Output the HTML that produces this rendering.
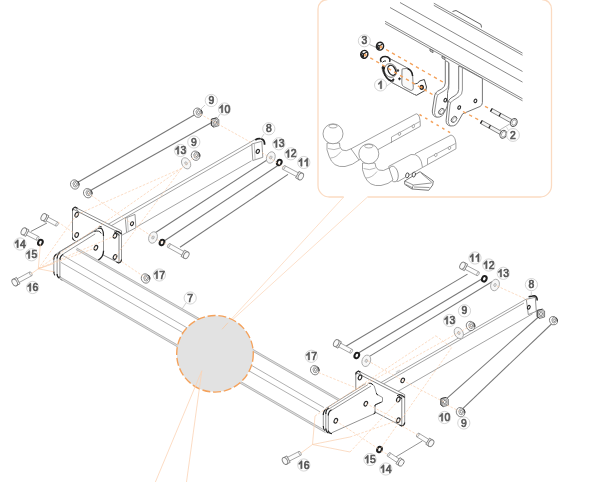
<!DOCTYPE html>
<html><head><meta charset="utf-8"><title>Towbar exploded view</title>
<style>
html,body{margin:0;padding:0;background:#fff;}
body{width:600px;height:482px;overflow:hidden;font-family:"Liberation Sans",sans-serif;}
svg{display:block;font-family:"Liberation Sans",sans-serif;filter:blur(0.3px);}
</style></head><body>
<svg width="600" height="482" viewBox="0 0 600 482">
<defs><filter id="nf" x="-20%" y="-20%" width="140%" height="140%"><feOffset dx="0" dy="0"/></filter></defs>
<rect width="600" height="482" fill="#fff"/>
<path d="M343.7,197 H329.5 A11.5,11.5 0 0 1 318,185.5 V9 A9.5,9.5 0 0 1 327.5,-0.5 M542,-0.5 A9.5,9.5 0 0 1 551.5,9 V185.5 A11.5,11.5 0 0 1 540,197 H367.5" stroke="#fbdbc2" stroke-width="1.3" fill="none" />
<line x1="343.70" y1="197.00" x2="222.00" y2="329.30" stroke="#fbd8be" stroke-width="0.8" />
<line x1="367.50" y1="197.00" x2="222.00" y2="329.30" stroke="#fbd8be" stroke-width="0.8" />
<line x1="255.30" y1="139.30" x2="105.50" y2="225.73" stroke="#858585" stroke-width="0.75" />
<line x1="252.00" y1="144.50" x2="108.40" y2="227.36" stroke="#858585" stroke-width="0.75" />
<line x1="251.50" y1="160.80" x2="136.70" y2="226.90" stroke="#858585" stroke-width="0.75" />
<line x1="126.60" y1="232.60" x2="121.70" y2="235.30" stroke="#858585" stroke-width="0.75" />
<path d="M251.80,144.00 L261.80,141.30 L262.80,157.30 L252.80,160.50 Z" stroke="#808080" stroke-width="0.8" fill="#fff" />
<line x1="254.30" y1="143.60" x2="255.10" y2="159.80" stroke="#aaa" stroke-width="0.7" />
<ellipse cx="257.80" cy="151.40" rx="1.5" ry="2.1" transform="rotate(25 257.80 151.40)" stroke="#2c2c2c" stroke-width="1.15" fill="#fff"/>
<path d="M255.3,140 Q258.5,137.8 262.3,139.3 Q264.9,140.8 264.6,144.8" stroke="#222" stroke-width="1.7" fill="none" />
<path d="M125.30,218.20 L135.00,214.40 L135.90,227.80 L126.60,232.60 Z" stroke="#808080" stroke-width="0.8" fill="#fff" />
<line x1="127.30" y1="217.60" x2="128.30" y2="231.60" stroke="#aaa" stroke-width="0.7" />
<ellipse cx="132.00" cy="223.70" rx="1.4" ry="2.0" transform="rotate(25 132.00 223.70)" stroke="#2c2c2c" stroke-width="1.15" fill="#fff"/>
<path d="M75.00,207.20 L121.50,230.80 L121.50,261.40 L119.00,263.00 Z" stroke="#777" stroke-width="0.8" fill="#fff" />
<path d="M72.50,208.80 L119.00,232.50 L119.00,263.00 L72.50,239.50 Z" stroke="#777" stroke-width="0.9" fill="#fff" stroke-linejoin="round"/>
<path d="M72.5,210.8 Q72.5,208 75.2,207 L77.5,208.2" stroke="#262626" stroke-width="1.1" fill="none" />
<path d="M115.5,230.8 Q119,231 121.5,234" stroke="#262626" stroke-width="1.2" fill="none" />
<path d="M114,231.8 Q117.5,232.5 119,235.5" stroke="#262626" stroke-width="1.0" fill="none" />
<path d="M121.5,259.5 Q121.3,262.6 118.5,263 L116.5,262" stroke="#262626" stroke-width="1.1" fill="none" />
<path d="M72.5,237.5 Q72.6,239.3 74.5,240.4" stroke="#262626" stroke-width="1.0" fill="none" />
<ellipse cx="76.70" cy="214.70" rx="1.6" ry="2.4" transform="rotate(25 76.70 214.70)" stroke="#2c2c2c" stroke-width="1.15" fill="#fff"/>
<ellipse cx="76.70" cy="235.00" rx="1.6" ry="2.4" transform="rotate(25 76.70 235.00)" stroke="#2c2c2c" stroke-width="1.15" fill="#fff"/>
<ellipse cx="115.00" cy="235.80" rx="1.6" ry="2.4" transform="rotate(25 115.00 235.80)" stroke="#2c2c2c" stroke-width="1.15" fill="#fff"/>
<ellipse cx="115.00" cy="257.00" rx="1.6" ry="2.4" transform="rotate(25 115.00 257.00)" stroke="#2c2c2c" stroke-width="1.15" fill="#fff"/>
<path d="M53.8,274 V258 Q53.8,254.5 57,252.8 L97,228 Q103.5,225.5 103.5,236 V251 Q103.5,257 98,260.2 L76,248.3 L62.5,254 L60,279.5 L56,277 Z" stroke="none" stroke-width="0" fill="#fff" />
<line x1="58.60" y1="252.30" x2="98.10" y2="228.40" stroke="#777" stroke-width="0.8" />
<line x1="56.40" y1="253.90" x2="97.00" y2="229.60" stroke="#777" stroke-width="0.7" />
<line x1="63.20" y1="254.00" x2="95.20" y2="233.90" stroke="#777" stroke-width="0.8" />
<line x1="103.50" y1="235.90" x2="103.50" y2="251.10" stroke="#777" stroke-width="0.8" />
<line x1="53.80" y1="258.00" x2="53.80" y2="273.00" stroke="#777" stroke-width="0.8" />
<line x1="57.10" y1="257.00" x2="57.10" y2="275.50" stroke="#777" stroke-width="0.8" />
<line x1="59.90" y1="258.00" x2="59.90" y2="277.50" stroke="#777" stroke-width="0.8" />
<path d="M53.8,259.5 Q53.8,255.8 56.6,254" stroke="#262626" stroke-width="1.2" fill="none" />
<path d="M57.1,258.5 Q57.1,254.5 60.2,252.6" stroke="#262626" stroke-width="1.2" fill="none" />
<path d="M59.9,260 Q59.9,256 63.2,254.2" stroke="#262626" stroke-width="1.2" fill="none" />
<path d="M53.8,271.5 Q53.8,274.3 55,275.3" stroke="#262626" stroke-width="1.1" fill="none" />
<path d="M57.1,274 Q57.2,277.3 59.4,278.2" stroke="#262626" stroke-width="1.2" fill="none" />
<path d="M59.9,276.5 Q60.1,279.6 62.8,280" stroke="#262626" stroke-width="1.2" fill="none" />
<path d="M98.1,228.4 Q103.5,226.3 103.5,236" stroke="#262626" stroke-width="1.2" fill="none" />
<path d="M94.3,231.6 Q99.5,229.8 101.3,233.5" stroke="#262626" stroke-width="0.9" fill="none" />
<path d="M103.5,250.8 Q103.7,257 98,260.2" stroke="#262626" stroke-width="1.3" fill="none" />
<path d="M99.3,226.3 L101.8,226.9" stroke="#262626" stroke-width="0.9" fill="none" />
<ellipse cx="95.90" cy="247.80" rx="1.6" ry="2.4" transform="rotate(25 95.90 247.80)" stroke="#2c2c2c" stroke-width="1.15" fill="#fff"/>
<line x1="76.30" y1="248.70" x2="340.00" y2="400.50" stroke="#e2e2e2" stroke-width="1.7" />
<line x1="75.88" y1="249.44" x2="339.58" y2="401.24" stroke="#9c9c9c" stroke-width="0.7" />
<line x1="76.72" y1="247.96" x2="340.42" y2="399.76" stroke="#9c9c9c" stroke-width="0.7" />
<line x1="62.70" y1="255.40" x2="324.00" y2="407.60" stroke="#9c9c9c" stroke-width="0.8" />
<line x1="61.00" y1="262.40" x2="320.00" y2="411.80" stroke="#9c9c9c" stroke-width="0.8" />
<line x1="60.00" y1="277.80" x2="326.00" y2="432.00" stroke="#e2e2e2" stroke-width="1.7" />
<line x1="59.57" y1="278.54" x2="325.57" y2="432.74" stroke="#9c9c9c" stroke-width="0.7" />
<line x1="60.43" y1="277.06" x2="326.43" y2="431.26" stroke="#9c9c9c" stroke-width="0.7" />
<line x1="77.50" y1="182.50" x2="196.30" y2="113.80" stroke="#787878" stroke-width="1.05" />
<line x1="91.30" y1="190.00" x2="213.00" y2="121.80" stroke="#787878" stroke-width="1.05" />
<ellipse cx="74.73" cy="184.48" rx="4.14" ry="4.77" transform="rotate(-25 74.73 184.48)" stroke="#707070" stroke-width="0.8" fill="#fff"/>
<path d="M78.02,184.59 L76.34,187.07 L73.77,186.51 L72.88,183.47 L74.56,180.99 L77.13,181.55 Z" stroke="#707070" stroke-width="0.7" fill="#fff" />
<ellipse cx="75.54" cy="184.03" rx="1.1700000000000002" ry="1.53" transform="rotate(-25 75.54 184.03)" stroke="#707070" stroke-width="0.7" fill="#fff"/>
<path d="M77.61,180.97 L79.05,183.40 L79.05,185.38" stroke="#3a3a3a" stroke-width="1.0" fill="none" />
<ellipse cx="87.73" cy="193.18" rx="4.14" ry="4.77" transform="rotate(-25 87.73 193.18)" stroke="#707070" stroke-width="0.8" fill="#fff"/>
<path d="M91.02,193.29 L89.34,195.77 L86.77,195.21 L85.88,192.17 L87.56,189.69 L90.13,190.25 Z" stroke="#707070" stroke-width="0.7" fill="#fff" />
<ellipse cx="88.54" cy="192.73" rx="1.1700000000000002" ry="1.53" transform="rotate(-25 88.54 192.73)" stroke="#707070" stroke-width="0.7" fill="#fff"/>
<path d="M90.61,189.67 L92.05,192.10 L92.05,194.08" stroke="#3a3a3a" stroke-width="1.0" fill="none" />
<ellipse cx="197.73" cy="112.68" rx="4.14" ry="4.77" transform="rotate(-25 197.73 112.68)" stroke="#707070" stroke-width="0.8" fill="#fff"/>
<path d="M201.02,112.79 L199.34,115.27 L196.77,114.71 L195.88,111.67 L197.56,109.19 L200.13,109.75 Z" stroke="#707070" stroke-width="0.7" fill="#fff" />
<ellipse cx="198.54" cy="112.23" rx="1.1700000000000002" ry="1.53" transform="rotate(-25 198.54 112.23)" stroke="#707070" stroke-width="0.7" fill="#fff"/>
<path d="M200.61,109.17 L202.05,111.60 L202.05,113.58" stroke="#3a3a3a" stroke-width="1.0" fill="none" />
<path d="M211.40,119.10 L216.60,117.90 L218.80,119.70 L218.80,125.70 L213.80,127.10 L211.40,125.50 Z" stroke="#5a5a5a" stroke-width="0.8" fill="#f6f6f6" />
<path d="M212.70,120.30 L217.30,119.30 L217.50,124.90 L213.30,125.70 Z" stroke="#777" stroke-width="0.7" fill="#fff" />
<ellipse cx="215.20" cy="122.60" rx="1.3" ry="1.8" transform="rotate(20 215.20 122.60)" stroke="#666" stroke-width="0.8" fill="#fff"/>
<path d="M211.40,119.30 L211.40,125.30 L213.80,127.00" stroke="#3a3a3a" stroke-width="0.9" fill="none" />
<path d="M211.60,119.10 L216.60,117.90" stroke="#3a3a3a" stroke-width="0.9" fill="none" />
<ellipse cx="195.53" cy="155.68" rx="4.14" ry="4.77" transform="rotate(-25 195.53 155.68)" stroke="#707070" stroke-width="0.8" fill="#fff"/>
<path d="M198.82,155.79 L197.14,158.27 L194.57,157.71 L193.68,154.67 L195.36,152.19 L197.93,152.75 Z" stroke="#707070" stroke-width="0.7" fill="#fff" />
<ellipse cx="196.34" cy="155.23" rx="1.1700000000000002" ry="1.53" transform="rotate(-25 196.34 155.23)" stroke="#707070" stroke-width="0.7" fill="#fff"/>
<path d="M198.41,152.17 L199.85,154.60 L199.85,156.58" stroke="#3a3a3a" stroke-width="1.0" fill="none" />
<ellipse cx="186.10" cy="163.30" rx="4.2" ry="5.9" transform="rotate(-28 186.10 163.30)" stroke="#a0a0a0" stroke-width="0.8" fill="#f7f7f7"/>
<ellipse cx="186.10" cy="163.30" rx="1.1" ry="1.6" transform="rotate(-28 186.10 163.30)" stroke="#a0a0a0" stroke-width="0.7" fill="#e4e4e4"/>
<line x1="153.70" y1="233.70" x2="268.50" y2="159.00" stroke="#787878" stroke-width="1.05" />
<line x1="163.80" y1="241.30" x2="277.50" y2="165.80" stroke="#787878" stroke-width="1.05" />
<line x1="180.00" y1="247.20" x2="288.00" y2="174.40" stroke="#787878" stroke-width="1.05" />
<ellipse cx="153.00" cy="237.50" rx="4.2" ry="5.9" transform="rotate(20 153.00 237.50)" stroke="#a0a0a0" stroke-width="0.8" fill="#f7f7f7"/>
<ellipse cx="153.00" cy="237.50" rx="1.1" ry="1.6" transform="rotate(20 153.00 237.50)" stroke="#a0a0a0" stroke-width="0.7" fill="#e4e4e4"/>
<ellipse cx="162.00" cy="242.50" rx="2.2" ry="2.8" transform="rotate(25 162.00 242.50)" stroke="#1e1e1e" stroke-width="2.0" fill="#fff"/>
<path d="M186.02,252.66 L169.82,243.66 L167.78,247.34 L183.98,256.34 Z" stroke="#8e8e8e" stroke-width="0.8" fill="#fdfdfd" />
<ellipse cx="168.80" cy="245.50" rx="1.0" ry="2.1" transform="rotate(-150.94539590092285 168.80 245.50)" stroke="#8e8e8e" stroke-width="0.7" fill="#fdfdfd"/>
<path d="M188.06,252.08 L184.56,250.14 L181.07,256.43 L184.56,258.38 Z" stroke="#7c7c7c" stroke-width="0.9" fill="#f4f4f4" />
<ellipse cx="186.31" cy="255.23" rx="2.4" ry="3.7" transform="rotate(-150.94539590092285 186.31 255.23)" stroke="#7c7c7c" stroke-width="0.9" fill="#fafafa"/>
<ellipse cx="270.80" cy="157.50" rx="4.2" ry="5.9" transform="rotate(20 270.80 157.50)" stroke="#a0a0a0" stroke-width="0.8" fill="#f7f7f7"/>
<ellipse cx="270.80" cy="157.50" rx="1.1" ry="1.6" transform="rotate(20 270.80 157.50)" stroke="#a0a0a0" stroke-width="0.7" fill="#e4e4e4"/>
<ellipse cx="279.30" cy="162.50" rx="2.2" ry="2.8" transform="rotate(25 279.30 162.50)" stroke="#1e1e1e" stroke-width="2.0" fill="#fff"/>
<path d="M300.48,173.94 L284.78,165.64 L282.82,169.36 L298.52,177.66 Z" stroke="#8e8e8e" stroke-width="0.8" fill="#fdfdfd" />
<ellipse cx="283.80" cy="167.50" rx="1.0" ry="2.1" transform="rotate(-152.13627450357595 283.80 167.50)" stroke="#8e8e8e" stroke-width="0.7" fill="#fdfdfd"/>
<path d="M302.51,173.32 L298.97,171.45 L295.61,177.81 L299.14,179.68 Z" stroke="#7c7c7c" stroke-width="0.9" fill="#f4f4f4" />
<ellipse cx="300.83" cy="176.50" rx="2.4" ry="3.7" transform="rotate(-152.13627450357595 300.83 176.50)" stroke="#7c7c7c" stroke-width="0.9" fill="#fafafa"/>
<line x1="30.80" y1="231.50" x2="47.00" y2="223.00" stroke="#666" stroke-width="0.8" />
<path d="M44.01,219.65 L56.01,226.05 L57.99,222.35 L45.99,215.95 Z" stroke="#8e8e8e" stroke-width="0.8" fill="#fdfdfd" />
<ellipse cx="57.00" cy="224.20" rx="1.0" ry="2.1" transform="rotate(28.072486935852876 57.00 224.20)" stroke="#8e8e8e" stroke-width="0.7" fill="#fdfdfd"/>
<path d="M41.98,220.27 L45.51,222.15 L48.90,215.80 L45.37,213.92 Z" stroke="#7c7c7c" stroke-width="0.9" fill="#f4f4f4" />
<ellipse cx="43.68" cy="217.09" rx="2.4" ry="3.7" transform="rotate(28.072486935852876 43.68 217.09)" stroke="#7c7c7c" stroke-width="0.9" fill="#fafafa"/>
<path d="M24.15,233.87 L36.75,240.27 L38.65,236.53 L26.05,230.13 Z" stroke="#8e8e8e" stroke-width="0.8" fill="#fdfdfd" />
<ellipse cx="37.70" cy="238.40" rx="1.0" ry="2.1" transform="rotate(26.92767785104052 37.70 238.40)" stroke="#8e8e8e" stroke-width="0.7" fill="#fdfdfd"/>
<path d="M22.13,234.53 L25.70,236.34 L28.96,229.92 L25.39,228.11 Z" stroke="#7c7c7c" stroke-width="0.9" fill="#f4f4f4" />
<ellipse cx="23.76" cy="231.32" rx="2.4" ry="3.7" transform="rotate(26.92767785104052 23.76 231.32)" stroke="#7c7c7c" stroke-width="0.9" fill="#fafafa"/>
<ellipse cx="40.40" cy="242.50" rx="2.2" ry="2.8" transform="rotate(25 40.40 242.50)" stroke="#1e1e1e" stroke-width="2.0" fill="#fff"/>
<path d="M17.00,283.65 L31.80,275.65 L29.80,271.95 L15.00,279.95 Z" stroke="#8e8e8e" stroke-width="0.8" fill="#fdfdfd" />
<ellipse cx="30.80" cy="273.80" rx="1.0" ry="2.1" transform="rotate(-28.393019421382995 30.80 273.80)" stroke="#8e8e8e" stroke-width="0.7" fill="#fdfdfd"/>
<path d="M16.39,285.68 L19.91,283.78 L16.49,277.44 L12.97,279.35 Z" stroke="#7c7c7c" stroke-width="0.9" fill="#f4f4f4" />
<ellipse cx="14.68" cy="282.51" rx="2.4" ry="3.7" transform="rotate(-28.393019421382995 14.68 282.51)" stroke="#7c7c7c" stroke-width="0.9" fill="#fafafa"/>
<ellipse cx="145.53" cy="278.48" rx="4.14" ry="4.77" transform="rotate(-25 145.53 278.48)" stroke="#707070" stroke-width="0.8" fill="#fff"/>
<path d="M148.82,278.59 L147.14,281.07 L144.57,280.51 L143.68,277.47 L145.36,274.99 L147.93,275.55 Z" stroke="#707070" stroke-width="0.7" fill="#fff" />
<ellipse cx="146.34" cy="278.03" rx="1.1700000000000002" ry="1.53" transform="rotate(-25 146.34 278.03)" stroke="#707070" stroke-width="0.7" fill="#fff"/>
<path d="M148.41,274.97 L149.85,277.40 L149.85,279.38" stroke="#3a3a3a" stroke-width="1.0" fill="none" />
<line x1="196.30" y1="155.30" x2="181.70" y2="168.30" stroke="#f9cfae" stroke-width="0.7" stroke-dasharray="2.5 1.5"/>
<line x1="181.70" y1="168.30" x2="38.30" y2="268.80" stroke="#f9cfae" stroke-width="0.7" stroke-dasharray="2.5 1.5"/>
<line x1="181.70" y1="168.30" x2="76.70" y2="214.70" stroke="#f9cfae" stroke-width="0.7" stroke-dasharray="2.5 1.5"/>
<line x1="181.70" y1="168.30" x2="115.00" y2="257.00" stroke="#f9cfae" stroke-width="0.7" stroke-dasharray="2.5 1.5"/>
<line x1="76.70" y1="214.70" x2="38.30" y2="268.80" stroke="#f9cfae" stroke-width="0.7" stroke-dasharray="2.5 1.5"/>
<line x1="115.00" y1="235.80" x2="38.30" y2="268.80" stroke="#f9cfae" stroke-width="0.7" stroke-dasharray="2.5 1.5"/>
<line x1="95.90" y1="247.80" x2="38.30" y2="268.80" stroke="#f9cfae" stroke-width="0.7" stroke-dasharray="2.5 1.5"/>
<line x1="88.00" y1="193.00" x2="132.00" y2="223.70" stroke="#f9cfae" stroke-width="0.7" stroke-dasharray="2.5 1.5"/>
<line x1="136.00" y1="226.00" x2="153.00" y2="237.00" stroke="#f9cfae" stroke-width="0.7" stroke-dasharray="2.5 1.5"/>
<line x1="157.00" y1="239.50" x2="168.00" y2="245.00" stroke="#f9cfae" stroke-width="0.7" stroke-dasharray="2.5 1.5"/>
<line x1="115.00" y1="257.00" x2="145.80" y2="278.00" stroke="#f9cfae" stroke-width="0.7" stroke-dasharray="2.5 1.5"/>
<line x1="58.00" y1="222.00" x2="76.70" y2="235.00" stroke="#f9cfae" stroke-width="0.7" stroke-dasharray="2.5 1.5"/>
<line x1="38.30" y1="268.80" x2="40.40" y2="244.00" stroke="#f9cfae" stroke-width="0.7" />
<line x1="38.30" y1="268.80" x2="53.80" y2="263.50" stroke="#f9cfae" stroke-width="0.7" />
<line x1="38.30" y1="268.80" x2="53.80" y2="271.80" stroke="#f9cfae" stroke-width="0.7" />
<line x1="38.30" y1="268.80" x2="31.00" y2="274.00" stroke="#f9cfae" stroke-width="0.7" />
<line x1="200.00" y1="114.00" x2="252.00" y2="143.00" stroke="#f9cfae" stroke-width="0.7" stroke-dasharray="2.5 1.5"/>
<line x1="262.00" y1="152.50" x2="283.00" y2="167.00" stroke="#f9cfae" stroke-width="0.7" stroke-dasharray="2.5 1.5"/>
<line x1="205.00" y1="105.00" x2="200.00" y2="110.00" stroke="#bbb" stroke-width="0.7" />
<circle cx="211.30" cy="100.50" r="6.1" fill="#fff" stroke="#c9c9c9" stroke-width="0.8"/>
<text transform="translate(211.30 104.15) scale(0.95 1)" text-anchor="middle" font-size="10.9" fill="#585858" stroke="#585858" stroke-width="0.7" filter="url(#nf)">9</text>
<line x1="220.50" y1="113.50" x2="217.50" y2="118.00" stroke="#bbb" stroke-width="0.7" />
<circle cx="224.50" cy="109.00" r="6.1" fill="#fff" stroke="#c9c9c9" stroke-width="0.8"/>
<path d="M222.77,104.85 L222.77,112.65 L221.45,112.65 L221.45,107.19 Q220.64,107.97 219.55,108.44 L219.55,107.19 Q221.16,106.41 221.85,104.85 Z" fill="#585858" stroke="#585858" stroke-width="0.55" filter="url(#nf)"/>
<text transform="translate(227.38 112.65) scale(0.95 1)" text-anchor="middle" font-size="10.9" fill="#585858" stroke="#585858" stroke-width="0.7" filter="url(#nf)">0</text>
<line x1="264.00" y1="134.00" x2="260.00" y2="140.00" stroke="#bbb" stroke-width="0.7" />
<circle cx="268.80" cy="128.80" r="6.1" fill="#fff" stroke="#c9c9c9" stroke-width="0.8"/>
<text transform="translate(268.80 132.45) scale(0.95 1)" text-anchor="middle" font-size="10.9" fill="#585858" stroke="#585858" stroke-width="0.7" filter="url(#nf)">8</text>
<circle cx="278.80" cy="143.80" r="6.1" fill="#fff" stroke="#c9c9c9" stroke-width="0.8"/>
<path d="M277.07,139.65 L277.07,147.45 L275.75,147.45 L275.75,141.99 Q274.94,142.77 273.85,143.24 L273.85,141.99 Q275.46,141.21 276.15,139.65 Z" fill="#585858" stroke="#585858" stroke-width="0.55" filter="url(#nf)"/>
<text transform="translate(281.68 147.45) scale(0.95 1)" text-anchor="middle" font-size="10.9" fill="#585858" stroke="#585858" stroke-width="0.7" filter="url(#nf)">3</text>
<circle cx="290.80" cy="153.80" r="6.1" fill="#fff" stroke="#c9c9c9" stroke-width="0.8"/>
<path d="M289.07,149.65 L289.07,157.45 L287.75,157.45 L287.75,151.99 Q286.94,152.77 285.85,153.24 L285.85,151.99 Q287.46,151.21 288.15,149.65 Z" fill="#585858" stroke="#585858" stroke-width="0.55" filter="url(#nf)"/>
<text transform="translate(293.68 157.45) scale(0.95 1)" text-anchor="middle" font-size="10.9" fill="#585858" stroke="#585858" stroke-width="0.7" filter="url(#nf)">2</text>
<circle cx="303.80" cy="162.50" r="6.1" fill="#fff" stroke="#c9c9c9" stroke-width="0.8"/>
<path d="M302.07,158.35 L302.07,166.15 L300.75,166.15 L300.75,160.69 Q299.94,161.47 298.85,161.94 L298.85,160.69 Q300.46,159.91 301.15,158.35 Z" fill="#585858" stroke="#585858" stroke-width="0.55" filter="url(#nf)"/>
<path d="M307.83,158.35 L307.83,166.15 L306.51,166.15 L306.51,160.69 Q305.70,161.47 304.61,161.94 L304.61,160.69 Q306.22,159.91 306.91,158.35 Z" fill="#585858" stroke="#585858" stroke-width="0.55" filter="url(#nf)"/>
<circle cx="193.80" cy="142.00" r="6.1" fill="#fff" stroke="#c9c9c9" stroke-width="0.8"/>
<text transform="translate(193.80 145.65) scale(0.95 1)" text-anchor="middle" font-size="10.9" fill="#585858" stroke="#585858" stroke-width="0.7" filter="url(#nf)">9</text>
<circle cx="180.50" cy="150.50" r="6.1" fill="#fff" stroke="#c9c9c9" stroke-width="0.8"/>
<path d="M178.77,146.35 L178.77,154.15 L177.45,154.15 L177.45,148.69 Q176.64,149.47 175.55,149.94 L175.55,148.69 Q177.16,147.91 177.85,146.35 Z" fill="#585858" stroke="#585858" stroke-width="0.55" filter="url(#nf)"/>
<text transform="translate(183.38 154.15) scale(0.95 1)" text-anchor="middle" font-size="10.9" fill="#585858" stroke="#585858" stroke-width="0.7" filter="url(#nf)">3</text>
<circle cx="20.00" cy="244.00" r="6.1" fill="#fff" stroke="#c9c9c9" stroke-width="0.8"/>
<path d="M18.27,239.85 L18.27,247.65 L16.95,247.65 L16.95,242.19 Q16.14,242.97 15.05,243.44 L15.05,242.19 Q16.66,241.41 17.35,239.85 Z" fill="#585858" stroke="#585858" stroke-width="0.55" filter="url(#nf)"/>
<text transform="translate(22.88 247.65) scale(0.95 1)" text-anchor="middle" font-size="10.9" fill="#585858" stroke="#585858" stroke-width="0.7" filter="url(#nf)">4</text>
<circle cx="31.50" cy="254.80" r="6.1" fill="#fff" stroke="#c9c9c9" stroke-width="0.8"/>
<path d="M29.77,250.65 L29.77,258.45 L28.45,258.45 L28.45,252.99 Q27.64,253.77 26.55,254.24 L26.55,252.99 Q28.16,252.21 28.85,250.65 Z" fill="#585858" stroke="#585858" stroke-width="0.55" filter="url(#nf)"/>
<text transform="translate(34.38 258.45) scale(0.95 1)" text-anchor="middle" font-size="10.9" fill="#585858" stroke="#585858" stroke-width="0.7" filter="url(#nf)">5</text>
<circle cx="32.60" cy="287.50" r="6.1" fill="#fff" stroke="#c9c9c9" stroke-width="0.8"/>
<path d="M30.87,283.35 L30.87,291.15 L29.55,291.15 L29.55,285.69 Q28.74,286.47 27.65,286.94 L27.65,285.69 Q29.26,284.91 29.95,283.35 Z" fill="#585858" stroke="#585858" stroke-width="0.55" filter="url(#nf)"/>
<text transform="translate(35.48 291.15) scale(0.95 1)" text-anchor="middle" font-size="10.9" fill="#585858" stroke="#585858" stroke-width="0.7" filter="url(#nf)">6</text>
<circle cx="159.30" cy="275.00" r="6.1" fill="#fff" stroke="#c9c9c9" stroke-width="0.8"/>
<path d="M157.57,270.85 L157.57,278.65 L156.25,278.65 L156.25,273.19 Q155.44,273.97 154.35,274.44 L154.35,273.19 Q155.96,272.41 156.65,270.85 Z" fill="#585858" stroke="#585858" stroke-width="0.55" filter="url(#nf)"/>
<text transform="translate(162.18 278.65) scale(0.95 1)" text-anchor="middle" font-size="10.9" fill="#585858" stroke="#585858" stroke-width="0.7" filter="url(#nf)">7</text>
<line x1="186.00" y1="303.00" x2="182.00" y2="309.00" stroke="#bbb" stroke-width="0.7" />
<circle cx="190.20" cy="298.00" r="6.1" fill="#fff" stroke="#c9c9c9" stroke-width="0.8"/>
<text transform="translate(190.20 301.65) scale(0.95 1)" text-anchor="middle" font-size="10.9" fill="#585858" stroke="#585858" stroke-width="0.7" filter="url(#nf)">7</text>
<line x1="526.30" y1="299.00" x2="380.70" y2="382.70" stroke="#858585" stroke-width="0.75" />
<line x1="524.00" y1="303.00" x2="383.30" y2="384.00" stroke="#858585" stroke-width="0.75" />
<line x1="532.50" y1="313.80" x2="396.70" y2="392.00" stroke="#858585" stroke-width="0.75" />
<path d="M526.30,299.30 L535.30,297.30 L536.30,311.30 L528.30,314.60 Z" stroke="#777" stroke-width="0.8" fill="#fff" />
<ellipse cx="528.80" cy="307.30" rx="1.3" ry="1.9" transform="rotate(25 528.80 307.30)" stroke="#2c2c2c" stroke-width="1.15" fill="#fff"/>
<path d="M528.6,296.8 L534.2,295.8 Q537.2,296.2 537.2,300.6" stroke="#222" stroke-width="1.6" fill="none" />
<ellipse cx="402.70" cy="380.40" rx="1.6" ry="2.4" transform="rotate(25 402.70 380.40)" stroke="#2c2c2c" stroke-width="1.15" fill="#fff"/>
<path d="M396,372.2 l4,-2.2" stroke="#aaa" stroke-width="1.2" fill="none" stroke-dasharray="0.6 0.5"/>
<path d="M358.20,370.90 L404.70,394.60 L404.70,424.20 L402.00,426.00 Z" stroke="#777" stroke-width="0.8" fill="#fff" />
<path d="M355.80,372.50 L401.80,396.00 L401.80,426.00 L355.80,402.00 Z" stroke="#777" stroke-width="0.9" fill="#fff" stroke-linejoin="round"/>
<path d="M355.8,374.5 Q355.8,372 358.5,371 L360.5,372" stroke="#262626" stroke-width="1.1" fill="none" />
<path d="M398.5,394.3 Q402,394.5 404.7,397.5" stroke="#262626" stroke-width="1.2" fill="none" />
<path d="M397,395.3 Q400.5,396 401.8,399" stroke="#262626" stroke-width="1.0" fill="none" />
<path d="M404.7,422.5 Q404.5,425.5 401.5,426 L399.5,425" stroke="#262626" stroke-width="1.1" fill="none" />
<ellipse cx="360.00" cy="377.50" rx="1.6" ry="2.4" transform="rotate(25 360.00 377.50)" stroke="#2c2c2c" stroke-width="1.15" fill="#fff"/>
<ellipse cx="398.30" cy="399.50" rx="1.6" ry="2.4" transform="rotate(25 398.30 399.50)" stroke="#2c2c2c" stroke-width="1.15" fill="#fff"/>
<ellipse cx="398.30" cy="420.30" rx="1.6" ry="2.4" transform="rotate(25 398.30 420.30)" stroke="#2c2c2c" stroke-width="1.15" fill="#fff"/>
<path d="M323.3,428 V414 Q323.3,410 326.5,408 L365.5,383.5 L371,383.3 L374.2,385.8 L376.7,394.2 L382.5,397.5 L382.5,401.7 L375,405 L375,413.3 L331.7,432.8 Q325,434 323.3,428 Z" stroke="none" stroke-width="0" fill="#fff" />
<line x1="326.00" y1="408.30" x2="365.50" y2="383.60" stroke="#777" stroke-width="0.8" />
<line x1="328.30" y1="409.30" x2="368.00" y2="384.60" stroke="#777" stroke-width="0.7" />
<line x1="331.50" y1="410.30" x2="371.00" y2="386.00" stroke="#777" stroke-width="0.8" />
<path d="M371,383.4 L374.2,385.8 L376.7,394.2 L382.5,397.5 L382.5,401.7 L375,405 L375,413.3 L331.7,432.8" stroke="#777" stroke-width="0.8" fill="none" />
<line x1="323.30" y1="413.50" x2="323.30" y2="427.50" stroke="#777" stroke-width="0.8" />
<line x1="325.80" y1="412.50" x2="325.80" y2="430.00" stroke="#777" stroke-width="0.8" />
<line x1="328.30" y1="413.50" x2="328.30" y2="431.50" stroke="#777" stroke-width="0.8" />
<path d="M323.3,415 Q323.3,410.8 326.3,409" stroke="#262626" stroke-width="1.2" fill="none" />
<path d="M325.8,414 Q325.8,409.8 329,407.8" stroke="#262626" stroke-width="1.2" fill="none" />
<path d="M328.3,415.5 Q328.3,411.5 331.6,409.8" stroke="#262626" stroke-width="1.2" fill="none" />
<path d="M323.3,426 Q323.3,429.5 325,430.5" stroke="#262626" stroke-width="1.1" fill="none" />
<path d="M325.8,428.5 Q326,432.3 328.5,433" stroke="#262626" stroke-width="1.2" fill="none" />
<path d="M328.3,430.5 Q328.7,433.8 332,433.5" stroke="#262626" stroke-width="1.2" fill="none" />
<path d="M368.5,383.2 L371,383.3 L373,384.8" stroke="#262626" stroke-width="1.0" fill="none" />
<path d="M376.4,393 L376.7,394.2 L378,395" stroke="#262626" stroke-width="0.9" fill="none" />
<path d="M381.5,402 L376,404.5 L375,405 L375,406.5" stroke="#262626" stroke-width="0.9" fill="none" />
<path d="M375,411.5 L375,413.3 L373.5,414" stroke="#262626" stroke-width="0.9" fill="none" />
<ellipse cx="365.80" cy="403.70" rx="1.6" ry="2.4" transform="rotate(25 365.80 403.70)" stroke="#2c2c2c" stroke-width="1.15" fill="#fff"/>
<ellipse cx="335.80" cy="420.80" rx="1.6" ry="2.4" transform="rotate(25 335.80 420.80)" stroke="#2c2c2c" stroke-width="1.15" fill="#fff"/>
<line x1="345.50" y1="346.50" x2="467.50" y2="274.10" stroke="#787878" stroke-width="1.05" />
<line x1="358.80" y1="352.70" x2="482.50" y2="278.50" stroke="#787878" stroke-width="1.05" />
<line x1="369.50" y1="356.40" x2="492.00" y2="281.80" stroke="#787878" stroke-width="1.05" />
<path d="M336.50,345.65 L350.30,353.15 L352.30,349.45 L338.50,341.95 Z" stroke="#8e8e8e" stroke-width="0.8" fill="#fdfdfd" />
<ellipse cx="351.30" cy="351.30" rx="1.0" ry="2.1" transform="rotate(28.523118606312014 351.30 351.30)" stroke="#8e8e8e" stroke-width="0.7" fill="#fdfdfd"/>
<path d="M334.46,346.25 L337.98,348.16 L341.42,341.83 L337.90,339.92 Z" stroke="#7c7c7c" stroke-width="0.9" fill="#f4f4f4" />
<ellipse cx="336.18" cy="343.08" rx="2.4" ry="3.7" transform="rotate(28.523118606312014 336.18 343.08)" stroke="#7c7c7c" stroke-width="0.9" fill="#fafafa"/>
<ellipse cx="356.80" cy="355.50" rx="2.2" ry="2.8" transform="rotate(25 356.80 355.50)" stroke="#1e1e1e" stroke-width="2.0" fill="#fff"/>
<ellipse cx="366.30" cy="360.80" rx="4.2" ry="5.9" transform="rotate(20 366.30 360.80)" stroke="#a0a0a0" stroke-width="0.8" fill="#f7f7f7"/>
<ellipse cx="366.30" cy="360.80" rx="1.1" ry="1.6" transform="rotate(20 366.30 360.80)" stroke="#a0a0a0" stroke-width="0.7" fill="#e4e4e4"/>
<path d="M462.82,268.16 L477.02,275.66 L478.98,271.94 L464.78,264.44 Z" stroke="#8e8e8e" stroke-width="0.8" fill="#fdfdfd" />
<ellipse cx="478.00" cy="273.80" rx="1.0" ry="2.1" transform="rotate(27.841626069957833 478.00 273.80)" stroke="#8e8e8e" stroke-width="0.7" fill="#fdfdfd"/>
<path d="M460.79,268.78 L464.33,270.65 L467.69,264.28 L464.15,262.42 Z" stroke="#7c7c7c" stroke-width="0.9" fill="#f4f4f4" />
<ellipse cx="462.47" cy="265.60" rx="2.4" ry="3.7" transform="rotate(27.841626069957833 462.47 265.60)" stroke="#7c7c7c" stroke-width="0.9" fill="#fafafa"/>
<ellipse cx="484.30" cy="278.80" rx="2.2" ry="2.8" transform="rotate(25 484.30 278.80)" stroke="#1e1e1e" stroke-width="2.0" fill="#fff"/>
<ellipse cx="495.00" cy="285.00" rx="4.2" ry="5.9" transform="rotate(20 495.00 285.00)" stroke="#a0a0a0" stroke-width="0.8" fill="#f7f7f7"/>
<ellipse cx="495.00" cy="285.00" rx="1.1" ry="1.6" transform="rotate(20 495.00 285.00)" stroke="#a0a0a0" stroke-width="0.7" fill="#e4e4e4"/>
<ellipse cx="470.53" cy="325.98" rx="4.14" ry="4.77" transform="rotate(-25 470.53 325.98)" stroke="#707070" stroke-width="0.8" fill="#fff"/>
<path d="M473.82,326.09 L472.14,328.57 L469.57,328.01 L468.68,324.97 L470.36,322.49 L472.93,323.05 Z" stroke="#707070" stroke-width="0.7" fill="#fff" />
<ellipse cx="471.34" cy="325.53" rx="1.1700000000000002" ry="1.53" transform="rotate(-25 471.34 325.53)" stroke="#707070" stroke-width="0.7" fill="#fff"/>
<path d="M473.41,322.47 L474.85,324.90 L474.85,326.88" stroke="#3a3a3a" stroke-width="1.0" fill="none" />
<ellipse cx="458.80" cy="333.00" rx="4.2" ry="5.9" transform="rotate(-28 458.80 333.00)" stroke="#a0a0a0" stroke-width="0.8" fill="#f7f7f7"/>
<ellipse cx="458.80" cy="333.00" rx="1.1" ry="1.6" transform="rotate(-28 458.80 333.00)" stroke="#a0a0a0" stroke-width="0.7" fill="#e4e4e4"/>
<line x1="446.30" y1="398.80" x2="539.00" y2="316.50" stroke="#787878" stroke-width="1.05" />
<line x1="462.50" y1="408.80" x2="552.00" y2="323.50" stroke="#787878" stroke-width="1.05" />
<path d="M537.20,310.40 L542.40,309.20 L544.60,311.00 L544.60,317.00 L539.60,318.40 L537.20,316.80 Z" stroke="#5a5a5a" stroke-width="0.8" fill="#f6f6f6" />
<path d="M538.50,311.60 L543.10,310.60 L543.30,316.20 L539.10,317.00 Z" stroke="#777" stroke-width="0.7" fill="#fff" />
<ellipse cx="541.00" cy="313.90" rx="1.3" ry="1.8" transform="rotate(20 541.00 313.90)" stroke="#666" stroke-width="0.8" fill="#fff"/>
<path d="M537.20,310.60 L537.20,316.60 L539.60,318.30" stroke="#3a3a3a" stroke-width="0.9" fill="none" />
<path d="M537.40,310.40 L542.40,309.20" stroke="#3a3a3a" stroke-width="0.9" fill="none" />
<ellipse cx="553.45" cy="320.66" rx="3.7719999999999994" ry="4.345999999999999" transform="rotate(-25 553.45 320.66)" stroke="#707070" stroke-width="0.8" fill="#fff"/>
<path d="M556.45,320.77 L554.92,323.03 L552.58,322.52 L551.77,319.74 L553.30,317.48 L555.64,317.99 Z" stroke="#707070" stroke-width="0.7" fill="#fff" />
<ellipse cx="554.19" cy="320.25" rx="1.066" ry="1.394" transform="rotate(-25 554.19 320.25)" stroke="#707070" stroke-width="0.7" fill="#fff"/>
<path d="M556.08,317.47 L557.39,319.68 L557.39,321.48" stroke="#3a3a3a" stroke-width="1.0" fill="none" />
<path d="M440.90,398.60 L446.10,397.40 L448.30,399.20 L448.30,405.20 L443.30,406.60 L440.90,405.00 Z" stroke="#5a5a5a" stroke-width="0.8" fill="#f6f6f6" />
<path d="M442.20,399.80 L446.80,398.80 L447.00,404.40 L442.80,405.20 Z" stroke="#777" stroke-width="0.7" fill="#fff" />
<ellipse cx="444.70" cy="402.10" rx="1.3" ry="1.8" transform="rotate(20 444.70 402.10)" stroke="#666" stroke-width="0.8" fill="#fff"/>
<path d="M440.90,398.80 L440.90,404.80 L443.30,406.50" stroke="#3a3a3a" stroke-width="0.9" fill="none" />
<path d="M441.10,398.60 L446.10,397.40" stroke="#3a3a3a" stroke-width="0.9" fill="none" />
<ellipse cx="460.53" cy="412.18" rx="4.14" ry="4.77" transform="rotate(-25 460.53 412.18)" stroke="#707070" stroke-width="0.8" fill="#fff"/>
<path d="M463.82,412.29 L462.14,414.77 L459.57,414.21 L458.68,411.17 L460.36,408.69 L462.93,409.25 Z" stroke="#707070" stroke-width="0.7" fill="#fff" />
<ellipse cx="461.34" cy="411.73" rx="1.1700000000000002" ry="1.53" transform="rotate(-25 461.34 411.73)" stroke="#707070" stroke-width="0.7" fill="#fff"/>
<path d="M463.41,408.67 L464.85,411.10 L464.85,413.08" stroke="#3a3a3a" stroke-width="1.0" fill="none" />
<ellipse cx="314.73" cy="370.18" rx="4.14" ry="4.77" transform="rotate(-25 314.73 370.18)" stroke="#707070" stroke-width="0.8" fill="#fff"/>
<path d="M318.02,370.29 L316.34,372.77 L313.77,372.21 L312.88,369.17 L314.56,366.69 L317.13,367.25 Z" stroke="#707070" stroke-width="0.7" fill="#fff" />
<ellipse cx="315.54" cy="369.73" rx="1.1700000000000002" ry="1.53" transform="rotate(-25 315.54 369.73)" stroke="#707070" stroke-width="0.7" fill="#fff"/>
<path d="M317.61,366.67 L319.05,369.10 L319.05,371.08" stroke="#3a3a3a" stroke-width="1.0" fill="none" />
<path d="M287.26,462.17 L300.96,455.17 L299.04,451.43 L285.34,458.43 Z" stroke="#8e8e8e" stroke-width="0.8" fill="#fdfdfd" />
<ellipse cx="300.00" cy="453.30" rx="1.0" ry="2.1" transform="rotate(-27.064711005941707 300.00 453.30)" stroke="#8e8e8e" stroke-width="0.7" fill="#fdfdfd"/>
<path d="M286.60,464.19 L290.16,462.37 L286.89,455.96 L283.33,457.78 Z" stroke="#7c7c7c" stroke-width="0.9" fill="#f4f4f4" />
<ellipse cx="284.96" cy="460.98" rx="2.4" ry="3.7" transform="rotate(-27.064711005941707 284.96 460.98)" stroke="#7c7c7c" stroke-width="0.9" fill="#fafafa"/>
<ellipse cx="379.50" cy="449.50" rx="2.2" ry="2.8" transform="rotate(25 379.50 449.50)" stroke="#1e1e1e" stroke-width="2.0" fill="#fff"/>
<line x1="396.00" y1="456.80" x2="422.30" y2="441.00" stroke="#777" stroke-width="0.8" />
<path d="M401.17,460.26 L389.97,452.76 L387.63,456.24 L398.83,463.74 Z" stroke="#8e8e8e" stroke-width="0.8" fill="#fdfdfd" />
<ellipse cx="388.80" cy="454.50" rx="1.0" ry="2.1" transform="rotate(-146.19204008995806 388.80 454.50)" stroke="#8e8e8e" stroke-width="0.7" fill="#fdfdfd"/>
<path d="M403.25,459.84 L399.93,457.62 L395.92,463.60 L399.24,465.83 Z" stroke="#7c7c7c" stroke-width="0.9" fill="#f4f4f4" />
<ellipse cx="401.25" cy="462.83" rx="2.4" ry="3.7" transform="rotate(-146.19204008995806 401.25 462.83)" stroke="#7c7c7c" stroke-width="0.9" fill="#fafafa"/>
<path d="M430.91,440.72 L418.91,433.22 L416.69,436.78 L428.69,444.28 Z" stroke="#8e8e8e" stroke-width="0.8" fill="#fdfdfd" />
<ellipse cx="417.80" cy="435.00" rx="1.0" ry="2.1" transform="rotate(-147.9946167919165 417.80 435.00)" stroke="#8e8e8e" stroke-width="0.7" fill="#fdfdfd"/>
<path d="M432.98,440.24 L429.59,438.12 L425.77,444.23 L429.16,446.35 Z" stroke="#7c7c7c" stroke-width="0.9" fill="#f4f4f4" />
<ellipse cx="431.07" cy="443.29" rx="2.4" ry="3.7" transform="rotate(-147.9946167919165 431.07 443.29)" stroke="#7c7c7c" stroke-width="0.9" fill="#fafafa"/>
<line x1="312.50" y1="444.50" x2="315.00" y2="416.00" stroke="#f9cfae" stroke-width="0.7" />
<line x1="312.50" y1="444.50" x2="350.00" y2="437.00" stroke="#f9cfae" stroke-width="0.7" />
<line x1="312.50" y1="444.50" x2="350.00" y2="452.00" stroke="#f9cfae" stroke-width="0.7" />
<line x1="312.50" y1="444.50" x2="301.00" y2="453.00" stroke="#f9cfae" stroke-width="0.7" />
<line x1="315.00" y1="416.00" x2="435.80" y2="335.80" stroke="#f9cfae" stroke-width="0.7" stroke-dasharray="2.5 1.5"/>
<line x1="435.80" y1="335.80" x2="451.70" y2="347.50" stroke="#f9cfae" stroke-width="0.7" stroke-dasharray="2.5 1.5"/>
<line x1="451.70" y1="347.50" x2="381.00" y2="448.00" stroke="#f9cfae" stroke-width="0.7" stroke-dasharray="2.5 1.5"/>
<line x1="350.00" y1="437.00" x2="398.30" y2="420.30" stroke="#f9cfae" stroke-width="0.7" stroke-dasharray="2.5 1.5"/>
<line x1="350.00" y1="452.00" x2="399.00" y2="400.00" stroke="#f9cfae" stroke-width="0.7" stroke-dasharray="2.5 1.5"/>
<line x1="336.00" y1="421.00" x2="379.50" y2="449.50" stroke="#f9cfae" stroke-width="0.7" stroke-dasharray="2.5 1.5"/>
<line x1="381.00" y1="451.00" x2="388.00" y2="454.50" stroke="#f9cfae" stroke-width="0.7" stroke-dasharray="2.5 1.5"/>
<line x1="318.50" y1="372.50" x2="360.00" y2="389.50" stroke="#f9cfae" stroke-width="0.7" stroke-dasharray="2.5 1.5"/>
<line x1="366.00" y1="403.50" x2="398.30" y2="420.30" stroke="#f9cfae" stroke-width="0.7" stroke-dasharray="2.5 1.5"/>
<line x1="402.00" y1="426.00" x2="417.80" y2="435.00" stroke="#f9cfae" stroke-width="0.7" stroke-dasharray="2.5 1.5"/>
<line x1="367.40" y1="360.50" x2="402.70" y2="380.40" stroke="#f9cfae" stroke-width="0.7" stroke-dasharray="2.5 1.5"/>
<line x1="402.70" y1="380.40" x2="444.00" y2="402.00" stroke="#f9cfae" stroke-width="0.7" stroke-dasharray="2.5 1.5"/>
<line x1="447.00" y1="405.00" x2="459.00" y2="411.00" stroke="#f9cfae" stroke-width="0.7" stroke-dasharray="2.5 1.5"/>
<line x1="497.00" y1="286.00" x2="528.00" y2="300.00" stroke="#f9cfae" stroke-width="0.7" stroke-dasharray="2.5 1.5"/>
<line x1="470.80" y1="325.80" x2="352.00" y2="392.00" stroke="#f9cfae" stroke-width="0.7" stroke-dasharray="2.5 1.5"/>
<circle cx="311.30" cy="356.30" r="6.1" fill="#fff" stroke="#c9c9c9" stroke-width="0.8"/>
<path d="M309.57,352.15 L309.57,359.95 L308.25,359.95 L308.25,354.49 Q307.44,355.27 306.35,355.74 L306.35,354.49 Q307.96,353.71 308.65,352.15 Z" fill="#585858" stroke="#585858" stroke-width="0.55" filter="url(#nf)"/>
<text transform="translate(314.18 359.95) scale(0.95 1)" text-anchor="middle" font-size="10.9" fill="#585858" stroke="#585858" stroke-width="0.7" filter="url(#nf)">7</text>
<circle cx="475.00" cy="258.00" r="6.1" fill="#fff" stroke="#c9c9c9" stroke-width="0.8"/>
<path d="M473.27,253.85 L473.27,261.65 L471.95,261.65 L471.95,256.19 Q471.14,256.97 470.05,257.44 L470.05,256.19 Q471.66,255.41 472.35,253.85 Z" fill="#585858" stroke="#585858" stroke-width="0.55" filter="url(#nf)"/>
<path d="M479.03,253.85 L479.03,261.65 L477.71,261.65 L477.71,256.19 Q476.90,256.97 475.81,257.44 L475.81,256.19 Q477.42,255.41 478.11,253.85 Z" fill="#585858" stroke="#585858" stroke-width="0.55" filter="url(#nf)"/>
<circle cx="488.80" cy="265.00" r="6.1" fill="#fff" stroke="#c9c9c9" stroke-width="0.8"/>
<path d="M487.07,260.85 L487.07,268.65 L485.75,268.65 L485.75,263.19 Q484.94,263.97 483.85,264.44 L483.85,263.19 Q485.46,262.41 486.15,260.85 Z" fill="#585858" stroke="#585858" stroke-width="0.55" filter="url(#nf)"/>
<text transform="translate(491.68 268.65) scale(0.95 1)" text-anchor="middle" font-size="10.9" fill="#585858" stroke="#585858" stroke-width="0.7" filter="url(#nf)">2</text>
<circle cx="503.30" cy="273.30" r="6.1" fill="#fff" stroke="#c9c9c9" stroke-width="0.8"/>
<path d="M501.57,269.15 L501.57,276.95 L500.25,276.95 L500.25,271.49 Q499.44,272.27 498.35,272.74 L498.35,271.49 Q499.96,270.71 500.65,269.15 Z" fill="#585858" stroke="#585858" stroke-width="0.55" filter="url(#nf)"/>
<text transform="translate(506.18 276.95) scale(0.95 1)" text-anchor="middle" font-size="10.9" fill="#585858" stroke="#585858" stroke-width="0.7" filter="url(#nf)">3</text>
<line x1="531.30" y1="291.50" x2="531.30" y2="296.00" stroke="#bbb" stroke-width="0.7" />
<circle cx="531.40" cy="284.60" r="6.1" fill="#fff" stroke="#c9c9c9" stroke-width="0.8"/>
<text transform="translate(531.40 288.25) scale(0.95 1)" text-anchor="middle" font-size="10.9" fill="#585858" stroke="#585858" stroke-width="0.7" filter="url(#nf)">8</text>
<circle cx="464.50" cy="310.80" r="6.1" fill="#fff" stroke="#c9c9c9" stroke-width="0.8"/>
<text transform="translate(464.50 314.45) scale(0.95 1)" text-anchor="middle" font-size="10.9" fill="#585858" stroke="#585858" stroke-width="0.7" filter="url(#nf)">9</text>
<circle cx="449.50" cy="320.50" r="6.1" fill="#fff" stroke="#c9c9c9" stroke-width="0.8"/>
<path d="M447.77,316.35 L447.77,324.15 L446.45,324.15 L446.45,318.69 Q445.64,319.47 444.55,319.94 L444.55,318.69 Q446.16,317.91 446.85,316.35 Z" fill="#585858" stroke="#585858" stroke-width="0.55" filter="url(#nf)"/>
<text transform="translate(452.38 324.15) scale(0.95 1)" text-anchor="middle" font-size="10.9" fill="#585858" stroke="#585858" stroke-width="0.7" filter="url(#nf)">3</text>
<circle cx="444.50" cy="417.50" r="6.1" fill="#fff" stroke="#c9c9c9" stroke-width="0.8"/>
<path d="M442.77,413.35 L442.77,421.15 L441.45,421.15 L441.45,415.69 Q440.64,416.47 439.55,416.94 L439.55,415.69 Q441.16,414.91 441.85,413.35 Z" fill="#585858" stroke="#585858" stroke-width="0.55" filter="url(#nf)"/>
<text transform="translate(447.38 421.15) scale(0.95 1)" text-anchor="middle" font-size="10.9" fill="#585858" stroke="#585858" stroke-width="0.7" filter="url(#nf)">0</text>
<circle cx="463.80" cy="423.00" r="6.1" fill="#fff" stroke="#c9c9c9" stroke-width="0.8"/>
<text transform="translate(463.80 426.65) scale(0.95 1)" text-anchor="middle" font-size="10.9" fill="#585858" stroke="#585858" stroke-width="0.7" filter="url(#nf)">9</text>
<circle cx="303.80" cy="465.00" r="6.1" fill="#fff" stroke="#c9c9c9" stroke-width="0.8"/>
<path d="M302.07,460.85 L302.07,468.65 L300.75,468.65 L300.75,463.19 Q299.94,463.97 298.85,464.44 L298.85,463.19 Q300.46,462.41 301.15,460.85 Z" fill="#585858" stroke="#585858" stroke-width="0.55" filter="url(#nf)"/>
<text transform="translate(306.68 468.65) scale(0.95 1)" text-anchor="middle" font-size="10.9" fill="#585858" stroke="#585858" stroke-width="0.7" filter="url(#nf)">6</text>
<circle cx="370.00" cy="459.50" r="6.1" fill="#fff" stroke="#c9c9c9" stroke-width="0.8"/>
<path d="M368.27,455.35 L368.27,463.15 L366.95,463.15 L366.95,457.69 Q366.14,458.47 365.05,458.94 L365.05,457.69 Q366.66,456.91 367.35,455.35 Z" fill="#585858" stroke="#585858" stroke-width="0.55" filter="url(#nf)"/>
<text transform="translate(372.88 463.15) scale(0.95 1)" text-anchor="middle" font-size="10.9" fill="#585858" stroke="#585858" stroke-width="0.7" filter="url(#nf)">5</text>
<circle cx="385.80" cy="469.00" r="6.1" fill="#fff" stroke="#c9c9c9" stroke-width="0.8"/>
<path d="M384.07,464.85 L384.07,472.65 L382.75,472.65 L382.75,467.19 Q381.94,467.97 380.85,468.44 L380.85,467.19 Q382.46,466.41 383.15,464.85 Z" fill="#585858" stroke="#585858" stroke-width="0.55" filter="url(#nf)"/>
<text transform="translate(388.68 472.65) scale(0.95 1)" text-anchor="middle" font-size="10.9" fill="#585858" stroke="#585858" stroke-width="0.7" filter="url(#nf)">4</text>
<circle cx="215" cy="353.8" r="38.3" fill="#e2e2e2" stroke="#f4a25c" stroke-width="1.4" stroke-dasharray="8 2.8"/>
<line x1="222.00" y1="329.30" x2="228.00" y2="322.70" stroke="#f6c9a4" stroke-width="0.8" />
<line x1="201.80" y1="370.80" x2="155.40" y2="482.00" stroke="#fbd3b5" stroke-width="0.8" />
<line x1="201.80" y1="370.80" x2="186.50" y2="482.00" stroke="#fbd3b5" stroke-width="0.8" />
<line x1="433.80" y1="3.20" x2="522.50" y2="53.14" stroke="#6a6a6a" stroke-width="0.8" />
<line x1="433.80" y1="5.30" x2="522.50" y2="55.24" stroke="#6a6a6a" stroke-width="0.8" />
<line x1="400.00" y1="2.50" x2="522.50" y2="71.47" stroke="#6a6a6a" stroke-width="0.8" />
<line x1="390.00" y1="7.50" x2="522.50" y2="82.10" stroke="#6a6a6a" stroke-width="0.8" />
<line x1="385.00" y1="21.30" x2="522.50" y2="98.71" stroke="#6a6a6a" stroke-width="0.8" />
<line x1="385.00" y1="23.40" x2="522.50" y2="100.81" stroke="#6a6a6a" stroke-width="0.8" />
<path d="M452.5,11.5 L456,10.5 L481,24.5 L481.5,27.5" stroke="#555" stroke-width="0.9" fill="none" />
<path d="M458.7,66 V89.5 Q458.7,93.5 455,95.5 L451,98 Q448.3,99.8 447.9,103 L446.1,120.5 Q446,125.3 450.5,126 L453.5,125.8 Q456,125.5 457.8,122.3 L462.7,113.8 L480,106.5 Q482.4,105.3 482.4,102.5 V78.5 L462.4,67.5 Z" stroke="#666" stroke-width="0.9" fill="#fff" />
<path d="M462.4,68 V90 Q462.4,94.5 459,96.7 L452.5,100.8 Q450.3,102.3 450,105 L448.3,121.5 Q448.3,124 450.5,126" stroke="#777" stroke-width="0.8" fill="none" />
<path d="M447.9,101.4 L450.8,102.5" stroke="#777" stroke-width="0.7" fill="none" />
<ellipse cx="459.20" cy="107.50" rx="1.3" ry="1.8" transform="rotate(25 459.20 107.50)" stroke="#2c2c2c" stroke-width="1.15" fill="#fff"/>
<ellipse cx="475.40" cy="100.90" rx="1.3" ry="1.8" transform="rotate(25 475.40 100.90)" stroke="#2c2c2c" stroke-width="1.15" fill="#fff"/>
<ellipse cx="454.00" cy="119.40" rx="2.3" ry="3.4" transform="rotate(40 454.00 119.40)" stroke="#555" stroke-width="0.9" fill="#fff"/>
<ellipse cx="454.50" cy="119.80" rx="1.5" ry="2.5" transform="rotate(40 454.50 119.80)" stroke="#888" stroke-width="0.6" fill="#fff"/>
<path d="M445.3,60.5 V83 Q445.3,87 441.5,89 L437.5,91.3 Q435,92.8 434.6,96 L432.3,111 Q432.2,116.3 436.6,117.2 L439.5,117 Q441.8,116.6 443,114.5 L446.3,108.5 Q447.5,106 447.5,103.5 V93.5 Q447.7,90 448.8,88 V62.5 Z" stroke="#666" stroke-width="0.9" fill="#fff" />
<path d="M448.8,63 V84 Q448.8,88 445.5,90 L439.3,93.8 Q437,95.2 436.7,98 L434.5,112.5 Q434.5,115.5 436.6,117.2" stroke="#777" stroke-width="0.8" fill="none" />
<path d="M434.8,92.9 L437.6,94.6" stroke="#777" stroke-width="0.7" fill="none" />
<ellipse cx="445.30" cy="100.20" rx="1.3" ry="1.8" transform="rotate(25 445.30 100.20)" stroke="#2c2c2c" stroke-width="1.15" fill="#fff"/>
<ellipse cx="441.40" cy="111.40" rx="2.3" ry="3.4" transform="rotate(40 441.40 111.40)" stroke="#555" stroke-width="0.9" fill="#fff"/>
<ellipse cx="441.90" cy="111.80" rx="1.5" ry="2.5" transform="rotate(40 441.90 111.80)" stroke="#888" stroke-width="0.6" fill="#fff"/>
<path d="M430,49 l3,1.7 v2 l-3,-1.7 z M442,56 l3,1.7 v2 l-3,-1.7 z" stroke="#555" stroke-width="0.8" fill="#ddd" />
<path d="M389.5,58.5 L407.8,68.2 M382.3,69.5 Q384,77 392,82.5 L414.5,94.5" stroke="#666" stroke-width="0.8" fill="none" />
<path d="M382.3,69.5 Q384,77 392,82.5 L414.5,94.5 L426,88.5 L426.5,87 L424.3,79.5 L413.3,83.5 L408.5,68.3 L389.5,58.3 Z" stroke="none" stroke-width="0" fill="#fff" />
<path d="M389.5,58.5 L407.8,68.2 M382.3,69.5 Q384,77 392,82.5 L414.5,94.5" stroke="#666" stroke-width="0.8" fill="none" />
<path d="M413.3,83.5 Q418,84.5 419.5,81 L424.3,79.5 L426.5,87 L425.8,90 L416.5,95.3 L414.5,94.5" stroke="#444" stroke-width="1.0" fill="#fff" />
<ellipse cx="421.70" cy="87.30" rx="1.6" ry="2.0" transform="rotate(0 421.70 87.30)" stroke="#222" stroke-width="1.3" fill="#f4a25c"/>
<path d="M402,70 Q401.5,69 403,68.8 L408,68.3 Q412,70.5 412.6,75 L413.3,87.5 Q413.3,91 410.5,90.3 L403.5,86.5 Q401.8,85.5 401.8,83 Z" stroke="#777" stroke-width="0.9" fill="#fafafa" />
<path d="M407.5,68.5 Q412.2,70.2 412.6,76" stroke="#222" stroke-width="1.5" fill="none" />
<ellipse cx="390.50" cy="70.50" rx="6.0" ry="7.0" transform="rotate(-25 390.50 70.50)" stroke="#666" stroke-width="0.8" fill="#fff"/>
<path d="M383.2,67.5 Q383.5,75 388.5,79.5 Q391,81.3 393.5,81" stroke="#222" stroke-width="1.6" fill="none" />
<ellipse cx="391.80" cy="70.30" rx="3.5" ry="5.3" transform="rotate(-28 391.80 70.30)" stroke="#222" stroke-width="1.3" fill="#fff"/>
<path d="M381.3,62 Q379,58.5 383,56.8 Q387.5,55.8 389.5,58.5 Q390.5,60 389.5,61.8" stroke="#222" stroke-width="1.5" fill="none" />
<path d="M382.5,62.3 Q384,60.5 386,61" stroke="#222" stroke-width="1.0" fill="none" />
<ellipse cx="383.30" cy="67.80" rx="1.2" ry="1.6" transform="rotate(0 383.30 67.80)" stroke="#222" stroke-width="1.0" fill="#222"/>
<ellipse cx="398.00" cy="70.50" rx="0.7" ry="0.9" transform="rotate(0 398.00 70.50)" stroke="#222" stroke-width="0.8" fill="#222"/>
<ellipse cx="399.50" cy="78.80" rx="0.8" ry="1.0" transform="rotate(0 399.50 78.80)" stroke="#222" stroke-width="0.8" fill="#222"/>
<ellipse cx="393.30" cy="79.70" rx="0.7" ry="0.9" transform="rotate(0 393.30 79.70)" stroke="#222" stroke-width="0.8" fill="#222"/>
<line x1="386.00" y1="49.50" x2="446.00" y2="83.80" stroke="#f4a25c" stroke-width="1.35" stroke-dasharray="3.4 3.5"/>
<line x1="370.30" y1="57.80" x2="432.50" y2="94.50" stroke="#f4a25c" stroke-width="1.35" stroke-dasharray="3.4 3.5"/>
<line x1="369.50" y1="44.50" x2="376.30" y2="47.50" stroke="#999" stroke-width="0.8" />
<ellipse cx="380.00" cy="46.20" rx="3.5" ry="3.9" transform="rotate(20 380.00 46.20)" stroke="#222" stroke-width="1.5" fill="#fff"/>
<path d="M377.40,44.70 L379.20,45.90 L379.20,49.40 M379.20,45.90 L382.60,44.00" stroke="#222" stroke-width="1.2" fill="none" />
<path d="M377.00,45.70 L378.60,49.20" stroke="#222" stroke-width="1.6" fill="none" />
<ellipse cx="381.00" cy="47.00" rx="1.0" ry="1.2" transform="rotate(0 381.00 47.00)" stroke="#f4a25c" stroke-width="0.6" fill="#f4a25c"/>
<ellipse cx="364.30" cy="54.30" rx="3.5" ry="3.9" transform="rotate(20 364.30 54.30)" stroke="#222" stroke-width="1.5" fill="#fff"/>
<path d="M361.70,52.80 L363.50,54.00 L363.50,57.50 M363.50,54.00 L366.90,52.10" stroke="#222" stroke-width="1.2" fill="none" />
<path d="M361.30,53.80 L362.90,57.30" stroke="#222" stroke-width="1.6" fill="none" />
<ellipse cx="365.30" cy="55.10" rx="1.0" ry="1.2" transform="rotate(0 365.30 55.10)" stroke="#f4a25c" stroke-width="0.6" fill="#f4a25c"/>
<circle cx="364.30" cy="40.80" r="6.0" fill="#fff" stroke="#c9c9c9" stroke-width="0.8"/>
<text transform="translate(364.30 44.45) scale(0.95 1)" text-anchor="middle" font-size="10.9" fill="#585858" stroke="#585858" stroke-width="0.7" filter="url(#nf)">3</text>
<line x1="386.00" y1="86.50" x2="391.50" y2="82.50" stroke="#bbb" stroke-width="0.7" />
<circle cx="380.50" cy="85.00" r="6.0" fill="#fff" stroke="#c9c9c9" stroke-width="0.8"/>
<path d="M381.65,80.85 L381.65,88.65 L380.33,88.65 L380.33,83.19 Q379.52,83.97 378.43,84.44 L378.43,83.19 Q380.04,82.41 380.73,80.85 Z" fill="#585858" stroke="#585858" stroke-width="0.55" filter="url(#nf)"/>
<line x1="463.00" y1="111.50" x2="491.00" y2="126.50" stroke="#f4a25c" stroke-width="1.35" stroke-dasharray="3.4 3.5"/>
<line x1="485.00" y1="106.30" x2="491.00" y2="109.50" stroke="#f4a25c" stroke-width="1.35" stroke-dasharray="3.4 3.5"/>
<path d="M490.47,111.49 L512.97,123.99 L514.63,121.01 L492.13,108.51 Z" stroke="#666" stroke-width="0.8" fill="#f4f4f4" />
<line x1="490.47" y1="111.49" x2="492.13" y2="108.51" stroke="#222" stroke-width="1.4" />
<line x1="499.02" y1="116.24" x2="500.68" y2="113.26" stroke="#222" stroke-width="1.2" />
<ellipse cx="513.80" cy="122.50" rx="3.2" ry="4.1" transform="rotate(25 513.80 122.50)" stroke="#5a5a5a" stroke-width="1.0" fill="#fff"/>
<ellipse cx="514.10" cy="122.50" rx="2.0" ry="2.9" transform="rotate(25 514.10 122.50)" stroke="#888" stroke-width="0.7" fill="#fff"/>
<path d="M480.47,123.48 L502.47,135.78 L504.13,132.82 L482.13,120.52 Z" stroke="#666" stroke-width="0.8" fill="#f4f4f4" />
<line x1="480.47" y1="123.48" x2="482.13" y2="120.52" stroke="#222" stroke-width="1.4" />
<line x1="488.83" y1="128.16" x2="490.49" y2="125.19" stroke="#222" stroke-width="1.2" />
<ellipse cx="503.30" cy="134.30" rx="3.2" ry="4.1" transform="rotate(25 503.30 134.30)" stroke="#5a5a5a" stroke-width="1.0" fill="#fff"/>
<ellipse cx="503.60" cy="134.30" rx="2.0" ry="2.9" transform="rotate(25 503.60 134.30)" stroke="#888" stroke-width="0.7" fill="#fff"/>
<line x1="499.70" y1="130.00" x2="510.00" y2="123.80" stroke="#999" stroke-width="0.7" />
<line x1="508.50" y1="130.50" x2="506.50" y2="127.00" stroke="#ccc" stroke-width="0.7" />
<circle cx="513.00" cy="135.00" r="6.4" fill="#fff" stroke="#c9c9c9" stroke-width="0.8"/>
<text transform="translate(513.00 138.65) scale(0.95 1)" text-anchor="middle" font-size="10.9" fill="#585858" stroke="#585858" stroke-width="0.7" filter="url(#nf)">2</text>
<line x1="419.50" y1="114.50" x2="451.50" y2="133.50" stroke="#f4a25c" stroke-width="1.5" stroke-dasharray="2.6 4"/>
<path d="M351,148.8 L416.3,113.8 Q420.5,114 420.3,126.3 L359,160" stroke="#8a8a8a" stroke-width="0.8" fill="#fff" />
<path d="M391.5,137 L419.8,121.5 M391.5,137 V143" stroke="#8a8a8a" stroke-width="0.7" fill="none" />
<ellipse cx="399.50" cy="133.80" rx="1.2" ry="1.6" transform="rotate(20 399.50 133.80)" stroke="#8a8a8a" stroke-width="0.7" fill="#fff"/>
<ellipse cx="413.30" cy="126.30" rx="1.2" ry="1.6" transform="rotate(20 413.30 126.30)" stroke="#8a8a8a" stroke-width="0.7" fill="#fff"/>
<path d="M327,143 Q326,150 329,156 Q333,168 345,166.5 Q353,165 359,160 L351,148.8 Q346,152 342,150 Q339,147 339.5,143 Z" stroke="#8a8a8a" stroke-width="0.8" fill="#fff" />
<path d="M328,148.5 Q334,151 340,148 M330.5,158 Q336,158 341,151.5" stroke="#8a8a8a" stroke-width="0.6" fill="none" />
<circle cx="333" cy="133.8" r="10" fill="#fff" stroke="#8a8a8a" stroke-width="0.8"/>
<ellipse cx="333.00" cy="126.20" rx="4.2" ry="1.8" transform="rotate(0 333.00 126.20)" stroke="#8a8a8a" stroke-width="0.7" fill="#fff"/>
<path d="M415,153.8 L451,135 Q456.5,136 456,148.8 L422.5,167.5" stroke="#8a8a8a" stroke-width="0.8" fill="#fff" />
<path d="M427.5,158.5 L455.5,143.5 M427.5,158.5 V164.5" stroke="#8a8a8a" stroke-width="0.7" fill="none" />
<ellipse cx="435.80" cy="155.00" rx="1.2" ry="1.6" transform="rotate(20 435.80 155.00)" stroke="#8a8a8a" stroke-width="0.7" fill="#fff"/>
<ellipse cx="449.50" cy="148.00" rx="1.2" ry="1.6" transform="rotate(20 449.50 148.00)" stroke="#8a8a8a" stroke-width="0.7" fill="#fff"/>
<path d="M388.8,166.3 L411,154.5 Q421,153 422.5,167.5 L398,181.5 Q390,181 388.8,166.3 Z" stroke="#8a8a8a" stroke-width="0.8" fill="#fff" />
<ellipse cx="393.50" cy="174.00" rx="4.6" ry="8" transform="rotate(-12 393.50 174.00)" stroke="#8a8a8a" stroke-width="0.8" fill="#fff"/>
<path d="M362.5,163 Q361.5,170 364.5,176 Q369,187 381,185.5 Q389,184 393,180 L389,168 Q383,172 378.5,170 Q375,167.5 375,163 Z" stroke="#8a8a8a" stroke-width="0.8" fill="#fff" />
<path d="M363.5,168.5 Q369.5,171 375.5,168 M366,178 Q372,178 377,171.5" stroke="#8a8a8a" stroke-width="0.6" fill="none" />
<circle cx="368.8" cy="153.8" r="10" fill="#fff" stroke="#8a8a8a" stroke-width="0.8"/>
<ellipse cx="368.80" cy="146.20" rx="4.2" ry="1.8" transform="rotate(0 368.80 146.20)" stroke="#8a8a8a" stroke-width="0.7" fill="#fff"/>
<path d="M404.7,181 L420,171.7 L433.3,181 L432.7,185 L428.7,190.3 L412,189 L404.7,184.3 Z" stroke="#6a6a6a" stroke-width="0.9" fill="#fff" />
<path d="M404.7,181 L413.3,185 L431.3,183 M413.3,185 L412,189 M421.3,173.3 L432,182.5 M406,184.5 L413,188 M414,187 L429.5,187.5" stroke="#6a6a6a" stroke-width="0.7" fill="none" />
<ellipse cx="407.30" cy="175.30" rx="1.6" ry="2.5" transform="rotate(15 407.30 175.30)" stroke="#4a4a4a" stroke-width="0.9" fill="#fff"/>
<ellipse cx="413.80" cy="174.60" rx="1.6" ry="2.5" transform="rotate(15 413.80 174.60)" stroke="#4a4a4a" stroke-width="0.9" fill="#fff"/>
</svg>
</body></html>
